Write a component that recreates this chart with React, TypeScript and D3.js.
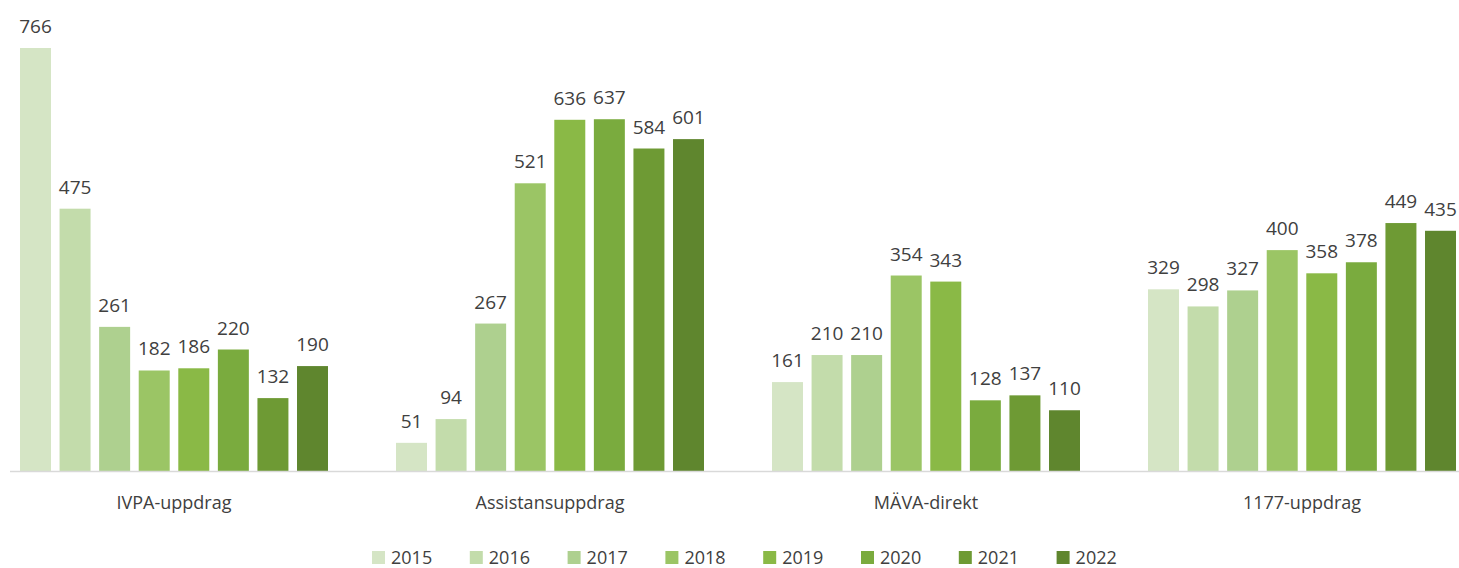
import React from 'react';
import * as d3 from 'd3';

const width = 1459;
const height = 568;
const baseline = 471;

const categories = ['IVPA-uppdrag', 'Assistansuppdrag', 'MÄVA-direkt', '1177-uppdrag'];
const years = ['2015', '2016', '2017', '2018', '2019', '2020', '2021', '2022'];
const colors = ['#d5e5c5', '#c3dcab', '#aed08f', '#9bc565', '#8ab946', '#7aab3e', '#6e9a34', '#5f862e'];

const v2015 = [766, 51, 161, 329];
const v2016 = [475, 94, 210, 298];
const v2017 = [261, 267, 210, 327];
const v2018 = [182, 521, 354, 400];
const v2019 = [186, 636, 343, 358];
const v2020 = [220, 637, 128, 378];
const v2021 = [132, 584, 137, 449];
const v2022 = [190, 601, 110, 435];

const series = [v2015, v2016, v2017, v2018, v2019, v2020, v2021, v2022];

const font = "'Open Sans', sans-serif";

function App() {
  const x = d3.scaleBand().domain(categories).range([-14, 1490]).padding(0);
  const inner = d3.scaleBand().domain(years).range([-154, 154]).paddingInner(0.217).paddingOuter(0);
  const y = d3.scaleLinear().domain([0, 766]).range([baseline, 48]);
  const legendX = d3.scaleBand().domain(years).range([372, 372 + 97.8 * 8]);

  return (
    <div style={{ position: 'absolute', left: 0, top: 0 }}>
      <svg width={width} height={height} style={{ display: 'block', background: '#fff' }}>
        {categories.map((c, ci) => {
          const cx = (x(c) ?? 0) + x.bandwidth() / 2;
          return (
            <g key={c}>
              {years.map((yr, si) => {
                const v = series[si][ci];
                const bx = cx + (inner(yr) ?? 0);
                return (
                  <g key={yr}>
                    <rect x={bx} y={y(v)} width={inner.bandwidth()} height={baseline - y(v)} fill={colors[si]} />
                    <text x={bx + inner.bandwidth() / 2} y={y(v) - 15} textAnchor="middle"
                      fontFamily={font} fontSize={19} fill="#404040">{v}</text>
                  </g>
                );
              })}
              <text x={cx} y={509} textAnchor="middle" fontFamily={font} fontSize={18} fill="#404040">{c}</text>
            </g>
          );
        })}
        <line x1={10} x2={width} y1={baseline + 0.5} y2={baseline + 0.5} stroke="#d9d9d9" strokeWidth={1.5} />
        {years.map((yr, si) => {
          const lx = legendX(yr) ?? 0;
          return (
            <g key={yr}>
              <rect x={lx} y={551} width={13} height={13} fill={colors[si]} />
              <text x={lx + 19} y={564} fontFamily={font} fontSize={18} fill="#404040">{yr}</text>
            </g>
          );
        })}
      </svg>
    </div>
  );
}

export default App;
